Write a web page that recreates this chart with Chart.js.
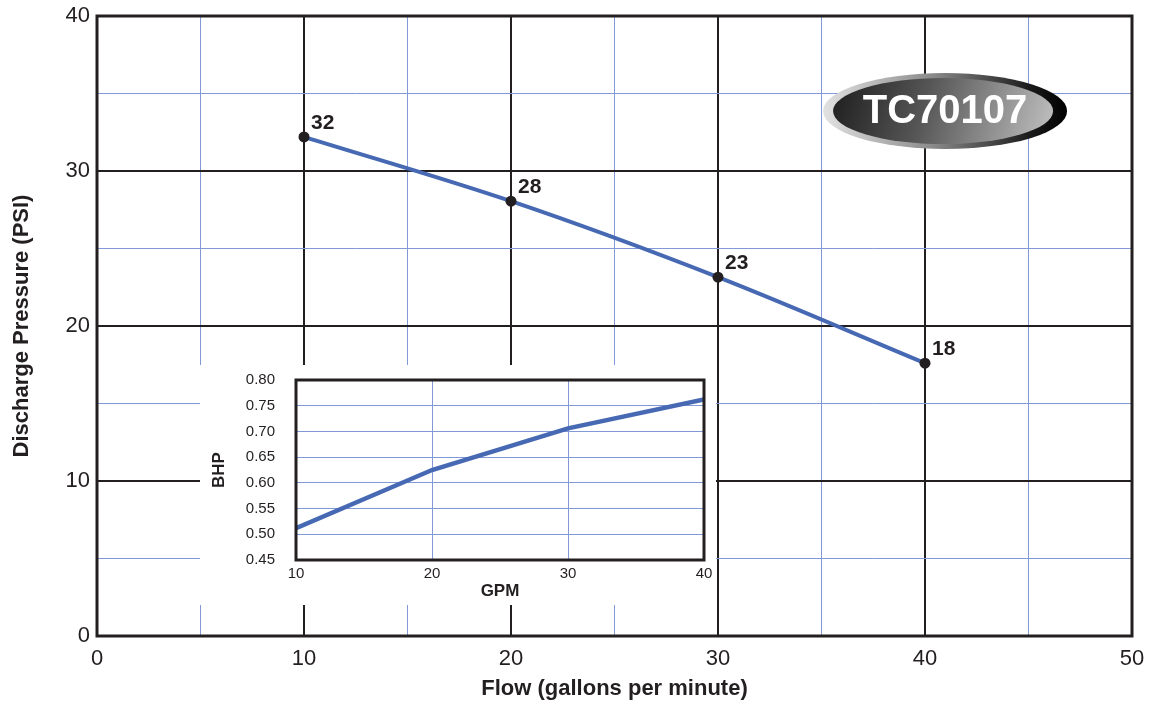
<!DOCTYPE html>
<html>
<head>
<meta charset="utf-8">
<script src="https://cdn.jsdelivr.net/npm/chart.js@4"></script>
<style>
  html, body { margin: 0; padding: 0; background: #fff; }
  #wrap { position: relative; width: 1152px; height: 704px; }
  #mainChart { position: absolute; left: 0; top: 0; }
  #inset { position: absolute; left: 200px; top: 365px; width: 516px; height: 240px; background: #fff; }
</style>
</head>
<body>
<div id="wrap">
  <canvas id="mainChart" width="1152" height="704"></canvas>
  <div id="inset"><canvas id="bhpChart" width="516" height="240"></canvas></div>
</div>
<script>
'use strict';
// pump curve
const flowGpm = [10, 20, 30, 40];
const pressurePsi = [32.2, 28.05, 23.15, 17.6];
const pressureLabels = ['32', '28', '23', '18'];

// inset: power draw
const bhpGpm = [10, 20, 30, 40];
const bhpValues = [0.512, 0.625, 0.706, 0.762];

const modelName = 'TC70107';

const FONT = "'Liberation Sans', Arial, sans-serif";
const LINE_BLUE = '#4769b3';
const GRID_BLUE = '#8299d8';
Chart.defaults.font.family = FONT;
Chart.defaults.color = '#231f20';

// keep the plot area where the layout padding puts it
function fixBox(size, key) {
  return s => {
    s[key] = size;
    s.paddingTop = 0; s.paddingBottom = 0;
    s.paddingLeft = 0; s.paddingRight = 0;
  };
}

const frame = {
  id: 'frame',
  afterDraw(chart, args, opts) {
    const a = chart.chartArea, ctx = chart.ctx;
    ctx.save();
    ctx.strokeStyle = '#231f20';
    ctx.lineWidth = opts.width || 3;
    ctx.strokeRect(a.left, a.top, a.right - a.left, a.bottom - a.top);
    ctx.restore();
  }
};

const pointLabels = {
  id: 'pointLabels',
  afterDatasetsDraw(chart) {
    const ctx = chart.ctx;
    const meta = chart.getDatasetMeta(0);
    ctx.save();
    ctx.font = 'bold 21px ' + FONT;
    ctx.fillStyle = '#231f20';
    ctx.textAlign = 'left';
    ctx.textBaseline = 'middle';
    meta.data.forEach((pt, i) => {
      ctx.fillText(pressureLabels[i], pt.x + 7, pt.y - 14);
    });
    ctx.restore();
  }
};

const badge = {
  id: 'badge',
  afterDraw(chart) {
    const ctx = chart.ctx;
    const cx = chart.scales.x.getPixelForValue(40.97);
    const cy = chart.scales.y.getPixelForValue(33.87);
    ctx.save();
    let g = ctx.createLinearGradient(cx - 122, 0, cx + 122, 0);
    g.addColorStop(0, '#e2e2e2');
    g.addColorStop(0.45, '#8a8a8a');
    g.addColorStop(0.85, '#1a1a1a');
    g.addColorStop(1, '#000');
    ctx.fillStyle = g;
    ctx.beginPath();
    ctx.ellipse(cx, cy, 122, 38, 0, 0, Math.PI * 2);
    ctx.fill();
    g = ctx.createLinearGradient(cx - 110, cy - 33, cx + 110, cy + 33);
    g.addColorStop(0, '#1e1e1e');
    g.addColorStop(0.4, '#555');
    g.addColorStop(1, '#c4c4c4');
    ctx.fillStyle = g;
    ctx.beginPath();
    ctx.ellipse(cx - 2, cy, 110, 33, 0, 0, Math.PI * 2);
    ctx.fill();
    ctx.font = 'bold 40px ' + FONT;
    ctx.fillStyle = '#fff';
    ctx.textAlign = 'center';
    ctx.textBaseline = 'middle';
    ctx.fillText(modelName, cx, cy + 1);
    ctx.restore();
  }
};

new Chart(document.getElementById('mainChart'), {
  type: 'line',
  data: {
    datasets: [{
      data: flowGpm.map((x, i) => ({ x: x, y: pressurePsi[i] })),
      borderColor: LINE_BLUE,
      borderWidth: 4,
      cubicInterpolationMode: 'monotone',
      pointRadius: 5.5,
      pointBackgroundColor: '#231f20',
      pointBorderWidth: 0
    }]
  },
  options: {
    responsive: false,
    devicePixelRatio: 1,
    animation: false,
    layout: { padding: { top: 16, right: 20, left: 0, bottom: 0 } },
    plugins: { legend: { display: false }, tooltip: { enabled: false }, frame: { width: 3 } },
    scales: {
      x: {
        type: 'linear', min: 0, max: 50,
        afterFit: fixBox(68, 'height'),
        ticks: {
          stepSize: 5, padding: 10, maxRotation: 0,
          font: { size: 22 },
          callback: v => (v % 10 === 0 ? v : '')
        },
        grid: {
          drawTicks: false,
          color: c => (c.tick.value % 10 === 0 ? '#231f20' : GRID_BLUE),
          lineWidth: c => (c.tick.value % 10 === 0 ? 2 : 1)
        },
        border: { display: false },
        title: {
          display: true, text: 'Flow (gallons per minute)',
          font: { size: 22, weight: 'bold' }, padding: { top: 0, bottom: 2 }
        }
      },
      y: {
        min: 0, max: 40,
        afterFit: fixBox(97, 'width'),
        ticks: {
          stepSize: 5, padding: 7,
          font: { size: 22 },
          callback: v => (v % 10 === 0 ? v : '')
        },
        grid: {
          drawTicks: false,
          color: c => (c.tick.value % 10 === 0 ? '#231f20' : GRID_BLUE),
          lineWidth: c => (c.tick.value % 10 === 0 ? 2 : 1)
        },
        border: { display: false },
        title: {
          display: true, text: 'Discharge Pressure (PSI)',
          font: { size: 22, weight: 'bold' }, padding: { top: 9, bottom: 0 }
        }
      }
    }
  },
  plugins: [frame, pointLabels, badge]
});

new Chart(document.getElementById('bhpChart'), {
  type: 'line',
  data: {
    datasets: [{
      data: bhpGpm.map((x, i) => ({ x: x, y: bhpValues[i] })),
      borderColor: LINE_BLUE,
      borderWidth: 4.5,
      tension: 0,
      pointRadius: 0
    }]
  },
  options: {
    responsive: false,
    devicePixelRatio: 1,
    animation: false,
    layout: { padding: { top: 15, right: 12, left: 0, bottom: 0 } },
    plugins: { legend: { display: false }, tooltip: { enabled: false }, frame: { width: 3 } },
    scales: {
      x: {
        type: 'linear', min: 10, max: 40,
        afterFit: fixBox(45, 'height'),
        ticks: { stepSize: 10, padding: 5, maxRotation: 0, font: { size: 15 } },
        grid: { drawTicks: false, color: GRID_BLUE, lineWidth: 1 },
        border: { display: false },
        title: {
          display: true, text: 'GPM',
          font: { size: 17, weight: 'bold' }, padding: { top: 0, bottom: 3 }
        }
      },
      y: {
        min: 0.45, max: 0.80,
        afterFit: fixBox(96, 'width'),
        ticks: { stepSize: 0.05, padding: 21, font: { size: 15 }, callback: v => v.toFixed(2) },
        grid: { drawTicks: false, color: GRID_BLUE, lineWidth: 1 },
        border: { display: false },
        title: {
          display: true, text: 'BHP',
          font: { size: 17, weight: 'bold' }, padding: { top: 9, bottom: 0 }
        }
      }
    }
  },
  plugins: [frame]
});
</script>
</body>
</html>
